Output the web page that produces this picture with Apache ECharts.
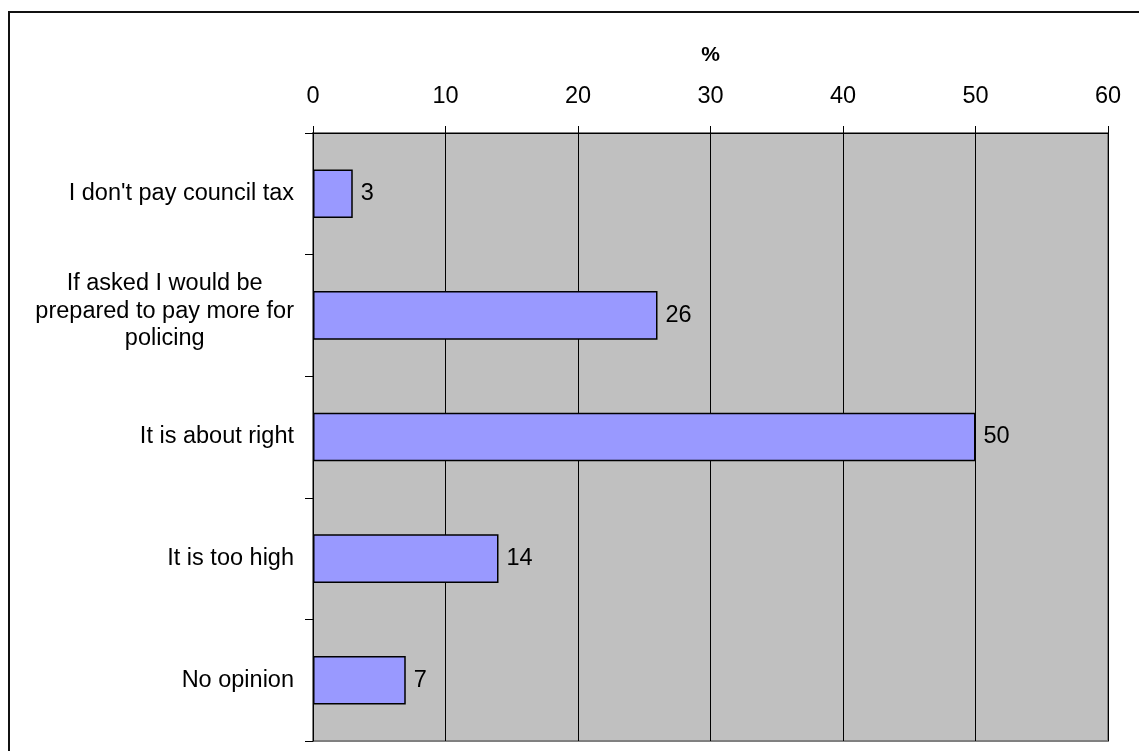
<!DOCTYPE html>
<html>
<head>
<meta charset="utf-8">
<script src="https://cdn.jsdelivr.net/npm/echarts@6/dist/echarts.min.js"></script>
<style>
  html, body { margin: 0; padding: 0; background: #fff; }
  #chart { width: 1139px; height: 751px; }
</style>
</head>
<body>
<div id="chart"></div>
<script>
// Survey answers about the policing share of council tax (%)
const categories = [
  "I don't pay council tax",
  "If asked I would be\nprepared to pay more for\npolicing",
  "It is about right",
  "It is too high",
  "No opinion"
];
const values = [3, 26, 50, 14, 7];
const axisMin = 0;
const axisMax = 60;
const axisStep = 10;

const FONT = '"Liberation Sans", Arial, sans-serif';
const FS = 23.5;

// wrapped labels sit slightly above the band centre
const categoryItems = categories.map(function (c) {
  return c.indexOf('\n') >= 0
    ? { value: c, textStyle: { padding: [0, 0, 8, 0] } }
    : c;
});

const chart = echarts.init(document.getElementById('chart'), null, { renderer: 'canvas' });

chart.setOption({
  animation: false,
  backgroundColor: '#ffffff',
  textStyle: { fontFamily: FONT },
  graphic: [{
    type: 'rect',
    shape: { x: 9, y: 12, width: 1200, height: 800 },
    style: { fill: 'none', stroke: '#111', lineWidth: 2 },
    z: 100
  }],
  grid: {
    left: 313, right: 31, top: 133, bottom: 10,
    show: true,
    backgroundColor: '#c0c0c0',
    borderColor: '#808080',
    borderWidth: 2
  },
  xAxis: {
    type: 'value',
    position: 'top',
    min: axisMin, max: axisMax, interval: axisStep,
    name: '%',
    nameLocation: 'middle',
    nameGap: 67,
    nameTextStyle: { fontSize: 21, fontWeight: 'bold', color: '#000', fontFamily: FONT },
    axisLine: { show: true, lineStyle: { color: '#000', width: 1 } },
    axisTick: { show: true, length: 7, lineStyle: { color: '#000' } },
    axisLabel: { fontSize: FS, color: '#000', margin: 24, fontFamily: FONT },
    splitLine: { show: true, lineStyle: { color: '#000', width: 1 } }
  },
  yAxis: {
    type: 'category',
    inverse: true,
    data: categoryItems,
    axisLine: { show: true, lineStyle: { color: '#000', width: 1 } },
    axisTick: { show: true, length: 8, lineStyle: { color: '#000' } },
    axisLabel: {
      margin: 19,
      fontSize: FS,
      color: '#000',
      fontFamily: FONT,
      lineHeight: 27.5,
      formatter: function (v) {
        return v.split('\n').map(function (l) { return '{c|' + l + '}'; }).join('\n');
      },
      rich: {
        c: { align: 'center', fontSize: FS, color: '#000', fontFamily: FONT, lineHeight: 27.5 }
      }
    },
    splitLine: { show: false }
  },
  series: [{
    type: 'bar',
    data: values,
    barWidth: '40%',
    itemStyle: { color: '#9999ff', borderColor: '#000', borderWidth: 1.5 },
    label: {
      show: true,
      position: 'right',
      distance: 8,
      fontSize: FS,
      color: '#000',
      fontFamily: FONT
    }
  }]
});
</script>
</body>
</html>
